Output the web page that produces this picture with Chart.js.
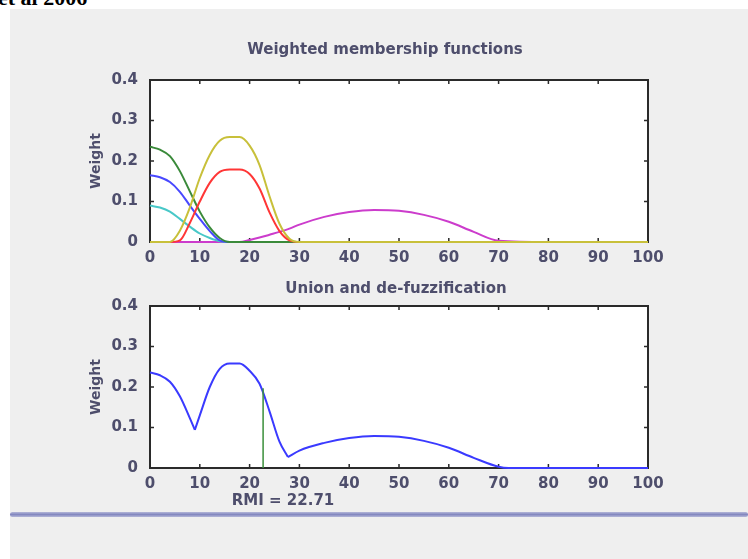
<!DOCTYPE html>
<html>
<head>
<meta charset="utf-8">
<script src="https://cdn.jsdelivr.net/npm/chart.js@4.4.1/dist/chart.umd.min.js"></script>
<style>
  body { margin: 0; background: #fff; width: 748px; height: 559px; overflow: hidden; position: relative; }
  #papel { position: absolute; left: 10px; top: 9px; width: 738px; height: 550px; background: #efefef; }
  #traco { position: absolute; left: 10px; top: 512px; width: 738px; height: 5px; background: linear-gradient(#b4b7d8, #8488c0 50%, #b4b7d8); border-radius: 3px; }
  #ref { position: absolute; left: -2px; top: -13px; font: bold 22px "Liberation Serif"; line-height: 22px; color: #000; }
  #topo { position: absolute; left: 0; top: 0; }
  #baixo { position: absolute; left: 0; top: 280px; }
</style>
</head>
<body>
<div id="papel"></div>
<div id="traco"></div>
<div id="ref">et al 2006</div>
<canvas id="topo" width="748" height="280"></canvas>
<canvas id="baixo" width="748" height="250"></canvas>
<script>
// valores
const xTopo = [0, 2, 4, 6, 8, 10, 12, 14, 16, 18, 20, 22, 24, 26, 28, 30, 35, 40, 45, 50, 55, 60, 65, 70, 80, 90, 100];

const verde    = [0.235, 0.228, 0.212, 0.175, 0.125, 0.075, 0.036, 0.010, 0, 0, 0, 0, 0, 0, 0, 0, 0, 0, 0, 0, 0, 0, 0, 0, 0, 0, 0];
const azul     = [0.165, 0.160, 0.148, 0.124, 0.090, 0.057, 0.027, 0.004, 0, 0, 0, 0, 0, 0, 0, 0, 0, 0, 0, 0, 0, 0, 0, 0, 0, 0, 0];
const ciano    = [0.090, 0.085, 0.075, 0.057, 0.038, 0.021, 0.010, 0.002, 0, 0, 0, 0, 0, 0, 0, 0, 0, 0, 0, 0, 0, 0, 0, 0, 0, 0, 0];
const amarelo  = [0, 0, 0, 0.028, 0.085, 0.158, 0.215, 0.250, 0.259, 0.259, 0.238, 0.190, 0.113, 0.045, 0.008, 0, 0, 0, 0, 0, 0, 0, 0, 0, 0, 0, 0];
const vermelho = [0, 0, 0, 0.004, 0.047, 0.100, 0.146, 0.173, 0.179, 0.179, 0.168, 0.132, 0.073, 0.027, 0.004, 0, 0, 0, 0, 0, 0, 0, 0, 0, 0, 0, 0];
const magenta  = [0, 0, 0, 0, 0, 0, 0, 0, 0, 0, 0.005, 0.011, 0.018, 0.025, 0.033, 0.043, 0.062, 0.074, 0.079, 0.077, 0.067, 0.050, 0.025, 0.003, 0, 0, 0];

// união (max) - quebrada nos cantos agudos
const uniaoX = [0, 2, 4, 6, 8, 9, 10, 12, 14, 16, 18, 20, 22, 24, 26, 27.7, 30, 35, 40, 45, 50, 55, 60, 65, 70, 72, 80, 90, 100];
const uniaoY = [0.236, 0.229, 0.213, 0.177, 0.123, 0.094, 0.130, 0.200, 0.245, 0.258, 0.258, 0.240, 0.208, 0.140, 0.065, 0.027, 0.043, 0.062, 0.074, 0.079, 0.077, 0.067, 0.050, 0.025, 0.003, 0, 0, 0, 0];
const cantos = [9, 27.7];

const rmi = 22.71;
const rmiAltura = 0.197;

const corTexto = '#4e4e6c';
const fonteEixo = { family: 'DejaVu Sans', size: 15, weight: 'bold' };

function pontos(xs, ys) {
  return xs.map((x, i) => ({ x: x, y: ys[i] }));
}

// separa a união em pedaços para manter os "V"
function pedacosUniao() {
  const pts = pontos(uniaoX, uniaoY);
  const lista = [];
  let atual = [];
  pts.forEach(p => {
    atual.push(p);
    if (cantos.includes(p.x)) { lista.push(atual); atual = [p]; }
  });
  lista.push(atual);
  return lista;
}

function serie(dados, cor, largura) {
  return {
    data: dados,
    borderColor: cor,
    borderWidth: largura || 2,
    pointRadius: 0,
    fill: false,
    clip: 4, // deixa a linha do zero aparecer por cima da moldura
    cubicInterpolationMode: 'monotone'
  };
}

// fundo branco + moldura com marcas para dentro (antes das linhas, que ficam por cima)
const moldura = {
  id: 'moldura',
  beforeDatasetsDraw(chart) {
    const a = chart.chartArea, ctx = chart.ctx;
    const sx = chart.scales.x, sy = chart.scales.y;
    ctx.save();
    ctx.fillStyle = '#fff';
    ctx.fillRect(a.left, a.top, a.right - a.left, a.bottom - a.top);
    ctx.strokeStyle = '#2a2a2a';
    ctx.lineWidth = 1.5;
    ctx.beginPath();
    sx.ticks.forEach(t => {
      const px = sx.getPixelForValue(t.value);
      ctx.moveTo(px, a.bottom); ctx.lineTo(px, a.bottom - 4);
      ctx.moveTo(px, a.top); ctx.lineTo(px, a.top + 4);
    });
    sy.ticks.forEach(t => {
      const py = sy.getPixelForValue(t.value);
      ctx.moveTo(a.left, py); ctx.lineTo(a.left + 4, py);
      ctx.moveTo(a.right, py); ctx.lineTo(a.right - 4, py);
    });
    ctx.stroke();
    ctx.lineWidth = 2;
    ctx.strokeRect(a.left, a.top, a.right - a.left, a.bottom - a.top);
    ctx.restore();
  }
};

// títulos e rótulo do RMI
const textos = {
  id: 'textos',
  afterDraw(chart, args, opts) {
    const ctx = chart.ctx;
    ctx.save();
    ctx.fillStyle = corTexto;
    ctx.font = 'bold 15px "DejaVu Sans"';
    ctx.textAlign = 'center';
    ctx.textBaseline = 'middle';
    (opts.lista || []).forEach(t => ctx.fillText(t.texto, t.x, t.y));
    ctx.restore();
  }
};

function opcoes(padTop, padBottom, lista) {
  return {
    responsive: false,
    animation: false,
    layout: { padding: { left: 84, right: 100, top: padTop, bottom: padBottom } },
    scales: {
      x: {
        type: 'linear', min: 0, max: 100,
        grid: { display: false, drawTicks: false }, border: { display: false },
        ticks: { stepSize: 10, color: corTexto, font: fonteEixo, padding: 7, maxRotation: 0 },
        afterFit: s => { s.height = 28; }
      },
      y: {
        min: 0, max: 0.4,
        grid: { display: false, drawTicks: false }, border: { display: false },
        ticks: { stepSize: 0.1, color: corTexto, font: fonteEixo, padding: 12 },
        title: { display: true, text: 'Weight', color: corTexto, font: { family: 'DejaVu Sans', size: 14, weight: 'bold' }, padding: { top: 4, bottom: 0 } },
        afterFit: s => { s.width = 66; }
      }
    },
    plugins: {
      legend: { display: false },
      tooltip: { enabled: false },
      textos: { lista: lista }
    }
  };
}

new Chart(document.getElementById('topo'), {
  type: 'line',
  data: {
    datasets: [
      serie(pontos(xTopo, amarelo), '#c8c03a'),
      serie(pontos(xTopo, vermelho), '#ff3636'),
      serie(pontos(xTopo, verde), '#3a8a3a'),
      serie(pontos(xTopo, azul), '#4848ff'),
      serie(pontos(xTopo, ciano), '#48c8c8'),
      serie(pontos(xTopo, magenta), '#cc3ccc')
    ]
  },
  options: opcoes(80, 10, [{ texto: 'Weighted membership functions', x: 385, y: 50 }]),
  plugins: [moldura, textos]
});

const dsUniao = pedacosUniao().map(p => serie(p, '#3a3aff'));
dsUniao.unshift({
  data: [{ x: rmi, y: 0 }, { x: rmi, y: rmiAltura }],
  borderColor: '#3a8f3a', borderWidth: 1.5, pointRadius: 0, fill: false
});

new Chart(document.getElementById('baixo'), {
  type: 'line',
  data: { datasets: dsUniao },
  options: opcoes(26, 34, [
    { texto: 'Union and de-fuzzification', x: 396, y: 9 },
    { texto: 'RMI = ' + rmi, x: 283, y: 221 }
  ]),
  plugins: [moldura, textos]
});
</script>
</body>
</html>
